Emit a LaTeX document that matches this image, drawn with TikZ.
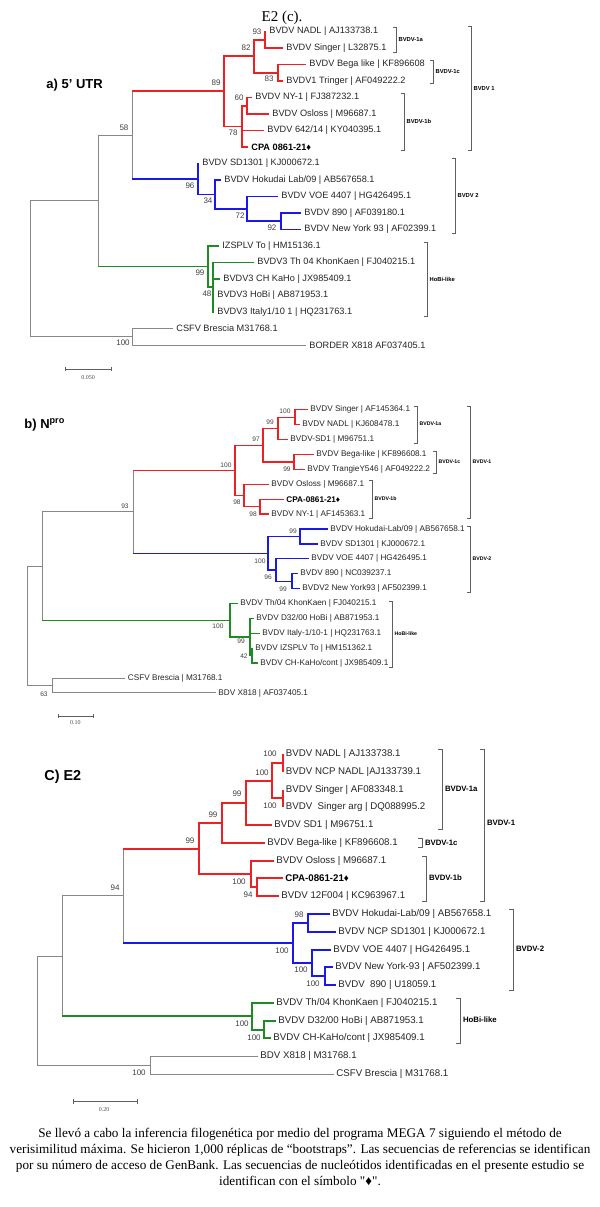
\documentclass[tikz,border=0pt]{standalone}
\usepackage{fontspec}
\setmainfont{Liberation Serif}
\setsansfont{Liberation Sans}
\newfontfamily\capfont{Liberation Serif}
\definecolor{tred}{RGB}{238,32,36}
\definecolor{tblue}{RGB}{25,25,235}
\definecolor{tgreen}{RGB}{30,140,35}
\definecolor{tgray}{RGB}{135,135,135}
\definecolor{bgray}{RGB}{95,95,95}
\tikzset{
  lbA/.style={font=\fontsize{4.6}{5}\selectfont\sffamily, anchor=west, inner xsep=1.5pt, inner ysep=0pt, text=black!85},
  lbB/.style={font=\fontsize{4.1}{5}\selectfont\sffamily, anchor=west, inner xsep=1.25pt, inner ysep=0pt, text=black!85},
  lbC/.style={font=\fontsize{4.85}{5}\selectfont\sffamily, anchor=west, inner xsep=1.25pt, inner ysep=0pt, text=black!85},
  bsA/.style={font=\fontsize{4}{4}\selectfont\sffamily, inner sep=0pt, text=black!75},
  bsB/.style={font=\fontsize{3.3}{4}\selectfont\sffamily, inner sep=0pt, text=black!75},
  bsC/.style={font=\fontsize{4}{4}\selectfont\sffamily, inner sep=0pt, text=black!75},
  brk/.style={draw=bgray, line width=0.4pt},
  brA/.style={font=\fontsize{2.9}{3}\selectfont\sffamily\bfseries, anchor=west, inner sep=0.6pt},
  brB/.style={font=\fontsize{2.6}{3}\selectfont\sffamily\bfseries, anchor=west, inner sep=0.6pt},
  brC/.style={font=\fontsize{3.9}{4}\selectfont\sffamily\bfseries, anchor=west, inner sep=0.8pt},
  rA/.style={draw=tred, line width=0.85pt},
  uA/.style={draw=tblue, line width=0.85pt},
  eA/.style={draw=tgreen, line width=0.85pt},
  rB/.style={draw=tred, line width=0.65pt},
  uB/.style={draw=tblue, line width=0.65pt},
  eB/.style={draw=tgreen, line width=0.65pt},
  rC/.style={draw=tred, line width=1pt},
  uC/.style={draw=tblue, line width=1pt},
  eC/.style={draw=tgreen, line width=1pt},
  gT/.style={draw=tgray, line width=0.45pt},
  sbar/.style={draw=bgray, line width=0.45pt},
  sblab/.style={font=\fontsize{3}{3}\selectfont\rmfamily, inner sep=0pt, text=black!70},
  ptitle/.style={font=\fontsize{6.5}{7}\selectfont\sffamily\bfseries, anchor=west, inner sep=0pt},
}
\begin{document}
\begin{tikzpicture}[x=0.5pt,y=-0.5pt]
\useasboundingbox (0,0) rectangle (600,1207);
\fill[white] (0,0) rectangle (600,1207);

\node[font=\fontsize{7.5}{8}\selectfont\rmfamily, inner sep=0pt] (top) at (282,18) {E2 (c).};

%%%%%%%%%%%%%%%% PANEL A %%%%%%%%%%%%%%%%
\node[ptitle] (titA) at (46,85) {a) 5’ UTR};
\coordinate (aR) at (30,268.8);
\coordinate (aN1) at (98,200.9);
\coordinate (aN58) at (132,135.1);
\coordinate (aO) at (132,336.75);
\coordinate (a89) at (224,91.3);
\coordinate (a82) at (254,56.25);
\coordinate (a93) at (265,39.75);
\coordinate (a83) at (278,72.75);
\coordinate (a78) at (242,126.4);
\coordinate (a60) at (247,105.75);
\coordinate (a96) at (198,179);
\coordinate (a34) at (215,194.4);
\coordinate (a72) at (247,208.9);
\coordinate (a92) at (281,221.25);
\coordinate (a99) at (208,266.6);
\coordinate (a48) at (213,287.25);

\node[lbA] (aT1) at (266,31.5) {BVDV NADL | AJ133738.1};
\node[lbA] (aT2) at (283,48) {BVDV Singer | L32875.1};
\node[lbA] (aT3) at (306,64.5) {BVDV Bega like | KF896608};
\node[lbA] (aT4) at (283,81) {BVDV1 Tringer | AF049222.2};
\node[lbA] (aT5) at (252,97.5) {BVDV NY-1 | FJ387232.1};
\node[lbA] (aT6) at (269,114) {BVDV Osloss | M96687.1};
\node[lbA] (aT7) at (264,130.5) {BVDV 642/14 | KY040395.1};
\node[lbA, font=\fontsize{4.6}{5}\selectfont\sffamily\bfseries, text=black] (aT8) at (248,147) {CPA 0861-21♦};
\node[lbA] (aT9) at (199,163.5) {BVDV SD1301 | KJ000672.1};
\node[lbA] (aT10) at (221,180) {BVDV Hokudai Lab/09 | AB567658.1};
\node[lbA] (aT11) at (278,196.5) {BVDV VOE 4407 | HG426495.1};
\node[lbA] (aT12) at (301,213) {BVDV 890 | AF039180.1};
\node[lbA] (aT13) at (301,229.5) {BVDV New York 93 | AF02399.1};
\node[lbA] (aT14) at (219,246) {IZSPLV To | HM15136.1};
\node[lbA] (aT15) at (254,262.5) {BVDV3 Th 04 KhonKaen | FJ040215.1};
\node[lbA] (aT16) at (220,279) {BVDV3 CH KaHo | JX985409.1};
\node[lbA] (aT17) at (214,295.5) {BVDV3 HoBi | AB871953.1};
\node[lbA] (aT18) at (214,312) {BVDV3 Italy1/10 1 | HQ231763.1};
\node[lbA] (aT19) at (173,328.5) {CSFV Brescia M31768.1};
\node[lbA] (aT20) at (306,345) {BORDER X818 AF037405.1};

\draw[gT] (aR) |- (aN1);
\draw[gT] (aR) |- (aO);
\draw[gT] (aN1) |- (aN58);
\draw[gT] (aO) |- (aT19.west);
\draw[gT] (aO) |- (aT20.west);
\draw[gT] (aN58) -- (aN58 |- a89);
\draw[rA] (aN58 |- a89) -- (a89);
\draw[gT] (aN58) -- (aN58 |- a96);
\draw[uA] (aN58 |- a96) -- (a96);
\draw[gT] (aN1) -- (aN1 |- a99);
\draw[eA] (aN1 |- a99) -- (a99);
\draw[rA] (a89) |- (a82);
\draw[rA] (a89) |- (a78);
\draw[rA] (a82) |- (a93);
\draw[rA] (a82) |- (a83);
\draw[rA] (a93) |- (aT1.west);
\draw[rA] (a93) |- (aT2.west);
\draw[rA] (a83) |- (aT3.west);
\draw[rA] (a83) |- (aT4.west);
\draw[rA] (a78) |- (a60);
\draw[rA] (a60) |- (aT5.west);
\draw[rA] (a60) |- (aT6.west);
\draw[rA] (a78) |- (aT7.west);
\draw[rA] (a78) |- (aT8.west);
\draw[uA] (a96) |- (aT9.west);
\draw[uA] (a96) |- (a34);
\draw[uA] (a34) |- (aT10.west);
\draw[uA] (a34) |- (a72);
\draw[uA] (a72) |- (aT11.west);
\draw[uA] (a72) |- (a92);
\draw[uA] (a92) |- (aT12.west);
\draw[uA] (a92) |- (aT13.west);
\draw[eA] (a99) |- (aT14.west);
\draw[eA] (a99) |- (a48);
\draw[eA] (a48) |- (aT15.west);
\draw[eA] (a48) |- (aT16.west);
\draw[eA] (a48) |- (aT17.west);
\draw[eA] (a48) |- (aT18.west);

\node[bsA] (ab1) at (257,32) {93};
\node[bsA] (ab2) at (246,48) {82};
\node[bsA] (ab3) at (269,79) {83};
\node[bsA] (ab4) at (216,83) {89};
\node[bsA] (ab5) at (239,98) {60};
\node[bsA] (ab6) at (233,133) {78};
\node[bsA] (ab7) at (124,128) {58};
\node[bsA] (ab8) at (190,186) {96};
\node[bsA] (ab9) at (208,201) {34};
\node[bsA] (ab10) at (240,216) {72};
\node[bsA] (ab11) at (272,228) {92};
\node[bsA] (ab12) at (200,273) {99};
\node[bsA] (ab13) at (207,294) {48};
\node[bsA] (ab14) at (123,343) {100};

\draw[brk] (393,27) -- (396,27) -- (396,52) -- (393,52);
\node[brA] (aK1) at (397,39.5) {BVDV-1a};
\draw[brk] (430,60) -- (433,60) -- (433,83) -- (430,83);
\node[brA] (aK2) at (434,71.5) {BVDV-1c};
\draw[brk] (401,93) -- (404,93) -- (404,150) -- (401,150);
\node[brA] (aK3) at (405,121.5) {BVDV-1b};
\draw[brk] (468,26) -- (471,26) -- (471,150) -- (468,150);
\node[brA] (aK4) at (472,88) {BVDV 1};
\draw[brk] (452,158) -- (455,158) -- (455,233) -- (452,233);
\node[brA] (aK5) at (456,195.5) {BVDV 2};
\draw[brk] (424,242) -- (427,242) -- (427,316) -- (424,316);
\node[brA] (aK6) at (428,279) {HoBi-like};

\draw[sbar] (65,369) -- (111,369) (65,367) -- (65,371) (111,367) -- (111,371);
\node[sblab] (aS) at (88,378) {0.050};

%%%%%%%%%%%%%%%% PANEL B %%%%%%%%%%%%%%%%
\node[ptitle] (titB) at (24,425) {b) N\textsuperscript{pro}};
\coordinate (bR) at (27,625.8);
\coordinate (bX) at (42,566);
\coordinate (bN93) at (133,511.8);
\coordinate (bO) at (52,685.5);
\coordinate (b100) at (235,470.3);
\coordinate (b97) at (263,445.2);
\coordinate (b99) at (278,428.4);
\coordinate (b100a) at (295,417.25);
\coordinate (b1c) at (294,462);
\coordinate (b1b) at (244,495.5);
\coordinate (bin) at (260,506.6);
\coordinate (bb100) at (268,553.2);
\coordinate (bb99a) at (300,536.5);
\coordinate (bb96) at (276,570);
\coordinate (bb99b) at (292,581.2);
\coordinate (bg100) at (230,620.3);
\coordinate (bg99) at (250,637);
\coordinate (bg42) at (252,655.7);

\node[lbB] (bT1) at (307.5,409.8) {BVDV Singer | AF145364.1};
\node[lbB] (bT2) at (299.5,424.7) {BVDV NADL | KJ608478.1};
\node[lbB] (bT3) at (287.5,439.6) {BVDV-SD1 | M96751.1};
\node[lbB] (bT4) at (313.5,454.5) {BVDV Bega-like | KF896608.1};
\node[lbB] (bT5) at (304.5,469.4) {BVDV TrangieY546 | AF049222.2};
\node[lbB] (bT6) at (268.5,484.3) {BVDV Osloss | M96687.1};
\node[lbB, font=\fontsize{4.1}{5}\selectfont\sffamily\bfseries, text=black] (bT7) at (283.5,499.2) {CPA-0861-21♦};
\node[lbB] (bT8) at (268.5,514.1) {BVDV NY-1 | AF145363.1};
\node[lbB] (bT9) at (327.5,529) {BVDV Hokudai-Lab/09 | AB567658.1};
\node[lbB] (bT10) at (317.5,543.9) {BVDV SD1301 | KJ000672.1};
\node[lbB] (bT11) at (308.5,558.8) {BVDV VOE 4407 | HG426495.1};
\node[lbB] (bT12) at (297.5,573.7) {BVDV 890 | NC039237.1};
\node[lbB] (bT13) at (299.5,588.6) {BVDV2 New York93 | AF502399.1};
\node[lbB] (bT14) at (237.5,603.5) {BVDV Th/04 KhonKaen | FJ040215.1};
\node[lbB] (bT15) at (253.5,618.4) {BVDV D32/00 HoBi | AB871953.1};
\node[lbB] (bT16) at (259.5,633.3) {BVDV Italy-1/10-1 | HQ231763.1};
\node[lbB] (bT17) at (252.5,648.2) {BVDV IZSPLV To | HM151362.1};
\node[lbB] (bT18) at (257.5,663.1) {BVDV CH-KaHo/cont | JX985409.1};
\node[lbB] (bT19) at (125,678) {CSFV Brescia | M31768.1};
\node[lbB] (bT20) at (215.5,692.9) {BDV X818 | AF037405.1};

\draw[gT] (bR) |- (bX);
\draw[gT] (bR) |- (bO);
\draw[gT] (bO) |- (bT19.west);
\draw[gT] (bO) |- (bT20.west);
\draw[gT] (bX) |- (bN93);
\draw[gT] (bX) -- (bX |- bg100);
\draw[eB] (bX |- bg100) -- (bg100);
\draw[gT] (bN93) -- (bN93 |- b100);
\draw[rB] (bN93 |- b100) -- (b100);
\draw[gT] (bN93) -- (bN93 |- bb100);
\draw[uB] (bN93 |- bb100) -- (bb100);
\draw[rB] (b100) |- (b97);
\draw[rB] (b100) |- (b1b);
\draw[rB] (b97) |- (b99);
\draw[rB] (b97) |- (b1c);
\draw[rB] (b99) |- (b100a);
\draw[rB] (b99) |- (bT3.west);
\draw[rB] (b100a) |- (bT1.west);
\draw[rB] (b100a) |- (bT2.west);
\draw[rB] (b1c) |- (bT4.west);
\draw[rB] (b1c) |- (bT5.west);
\draw[rB] (b1b) |- (bT6.west);
\draw[rB] (b1b) |- (bin);
\draw[rB] (bin) |- (bT7.west);
\draw[rB] (bin) |- (bT8.west);
\draw[uB] (bb100) |- (bb99a);
\draw[uB] (bb100) |- (bb96);
\draw[uB] (bb99a) |- (bT9.west);
\draw[uB] (bb99a) |- (bT10.west);
\draw[uB] (bb96) |- (bT11.west);
\draw[uB] (bb96) |- (bb99b);
\draw[uB] (bb99b) |- (bT12.west);
\draw[uB] (bb99b) |- (bT13.west);
\draw[eB] (bg100) |- (bT14.west);
\draw[eB] (bg100) |- (bg99);
\draw[eB] (bg99) |- (bT15.west);
\draw[eB] (bg99) |- (bT16.west);
\draw[eB] (bg99) |- (bg42);
\draw[eB] (bg42) |- (bT17.west);
\draw[eB] (bg42) |- (bT18.west);

\node[bsB] (bb1) at (285,411) {100};
\node[bsB] (bb2) at (270,422) {99};
\node[bsB] (bb3) at (256,439) {97};
\node[bsB] (bb4) at (287,469) {99};
\node[bsB] (bb5) at (226,465) {100};
\node[bsB] (bb6) at (237,502) {98};
\node[bsB] (bb7) at (253,514) {98};
\node[bsB] (bb8) at (125,506) {93};
\node[bsB] (bb9) at (293,531) {99};
\node[bsB] (bb10) at (260,561) {100};
\node[bsB] (bb11) at (268,577) {96};
\node[bsB] (bb12) at (283,589) {99};
\node[bsB] (bb13) at (218,626) {100};
\node[bsB] (bb14) at (241,641) {99};
\node[bsB] (bb15) at (244,656) {42};
\node[bsB] (bb16) at (44,694) {63};

\draw[brk] (414,406) -- (417,406) -- (417,443) -- (414,443);
\node[brB] (bK1) at (418,424) {BVDV-1a};
\draw[brk] (433,451) -- (436,451) -- (436,473) -- (433,473);
\node[brB] (bK2) at (437,462) {BVDV-1c};
\draw[brk] (467,406) -- (470,406) -- (470,518) -- (467,518);
\node[brB] (bK3) at (471,462) {BVDV-1};
\draw[brk] (369,480) -- (372,480) -- (372,518) -- (369,518);
\node[brB] (bK4) at (373,499) {BVDV-1b};
\draw[brk] (467,526) -- (470,526) -- (470,592) -- (467,592);
\node[brB] (bK5) at (471,559) {BVDV-2};
\draw[brk] (389,601) -- (392,601) -- (392,667) -- (389,667);
\node[brB] (bK6) at (393,634) {HoBi-like};

\draw[sbar] (58,716) -- (93,716) (58,714) -- (58,718) (93,714) -- (93,718);
\node[sblab] (bS) at (75.5,723) {0.10};

%%%%%%%%%%%%%%%% PANEL C %%%%%%%%%%%%%%%%
\node[ptitle, font=\fontsize{7.2}{8}\selectfont\sffamily\bfseries] (titC) at (44,777) {C) E2};
\coordinate (cR) at (37,1010.5);
\coordinate (cX) at (62,956);
\coordinate (c94) at (123,895.7);
\coordinate (cO) at (150,1065.1);
\coordinate (c99c) at (199,848.5);
\coordinate (c99b) at (222,822.9);
\coordinate (c99a) at (246,802.9);
\coordinate (c100) at (272,780.7);
\coordinate (c100a) at (283,762.9);
\coordinate (c100b) at (283,798.4);
\coordinate (c1b) at (251,874);
\coordinate (cin) at (257,887.3);
\coordinate (cb100) at (293,942.9);
\coordinate (c98) at (308,922.9);
\coordinate (c100v) at (312,962.9);
\coordinate (cin100) at (325,976.2);
\coordinate (cg) at (252,1016.2);
\coordinate (cgin) at (264,1029.6);

\node[lbC] (cT1) at (283,754) {BVDV NADL | AJ133738.1};
\node[lbC] (cT2) at (283,771.8) {BVDV NCP NADL |AJ133739.1};
\node[lbC] (cT3) at (283,789.6) {BVDV Singer | AF083348.1};
\node[lbC] (cT4) at (283,807.3) {BVDV\ \ Singer arg | DQ088995.2};
\node[lbC] (cT5) at (271.5,825.1) {BVDV SD1 | M96751.1};
\node[lbC] (cT6) at (264.5,842.9) {BVDV Bega-like | KF896608.1};
\node[lbC] (cT7) at (273.5,860.7) {BVDV Osloss | M96687.1};
\node[lbC, font=\fontsize{4.85}{5}\selectfont\sffamily\bfseries, text=black] (cT8) at (282.5,878.4) {CPA-0861-21♦};
\node[lbC] (cT9) at (278.5,896.2) {BVDV 12F004 | KC963967.1};
\node[lbC] (cT10) at (329.5,914) {BVDV Hokudai-Lab/09 | AB567658.1};
\node[lbC] (cT11) at (335.5,931.8) {BVDV NCP SD1301 | KJ000672.1};
\node[lbC] (cT12) at (330.5,949.6) {BVDV VOE 4407 | HG426495.1};
\node[lbC] (cT13) at (332.5,967.3) {BVDV New York-93 | AF502399.1};
\node[lbC] (cT14) at (335.5,985.1) {BVDV\ \ 890 | U18059.1};
\node[lbC] (cT15) at (273.5,1002.9) {BVDV Th/04 KhonKaen | FJ040215.1};
\node[lbC] (cT16) at (275.5,1020.7) {BVDV D32/00 HoBi | AB871953.1};
\node[lbC] (cT17) at (270.5,1038.4) {BVDV CH-KaHo/cont | JX985409.1};
\node[lbC] (cT18) at (257.5,1056.2) {BDV X818 | M31768.1};
\node[lbC] (cT19) at (333.5,1074) {CSFV Brescia | M31768.1};

\draw[gT] (cR) |- (cX);
\draw[gT] (cR) |- (cO);
\draw[gT] (cO) |- (cT18.west);
\draw[gT] (cO) |- (cT19.west);
\draw[gT] (cX) |- (c94);
\draw[gT] (cX) -- (cX |- cg);
\draw[eC] (cX |- cg) -- (cg);
\draw[gT] (c94) -- (c94 |- c99c);
\draw[rC] (c94 |- c99c) -- (c99c);
\draw[gT] (c94) -- (c94 |- cb100);
\draw[uC] (c94 |- cb100) -- (cb100);
\draw[rC] (c99c) |- (c99b);
\draw[rC] (c99c) |- (c1b);
\draw[rC] (c99b) |- (c99a);
\draw[rC] (c99b) |- (cT6.west);
\draw[rC] (c99a) |- (c100);
\draw[rC] (c99a) |- (cT5.west);
\draw[rC] (c100) |- (c100a);
\draw[rC] (c100) |- (c100b);
\draw[rC] (c100a) |- (cT1.west);
\draw[rC] (c100a) |- (cT2.west);
\draw[rC] (c100b) |- (cT3.west);
\draw[rC] (c100b) |- (cT4.west);
\draw[rC] (c1b) |- (cT7.west);
\draw[rC] (c1b) |- (cin);
\draw[rC] (cin) |- (cT8.west);
\draw[rC] (cin) |- (cT9.west);
\draw[uC] (cb100) |- (c98);
\draw[uC] (cb100) |- (c100v);
\draw[uC] (c98) |- (cT10.west);
\draw[uC] (c98) |- (cT11.west);
\draw[uC] (c100v) |- (cT12.west);
\draw[uC] (c100v) |- (cin100);
\draw[uC] (cin100) |- (cT13.west);
\draw[uC] (cin100) |- (cT14.west);
\draw[eC] (cg) |- (cT15.west);
\draw[eC] (cg) |- (cgin);
\draw[eC] (cgin) |- (cT16.west);
\draw[eC] (cgin) |- (cT17.west);

\node[bsC] (cb1) at (270,754) {100};
\node[bsC] (cb2) at (262,773) {100};
\node[bsC] (cb3) at (270,806) {100};
\node[bsC] (cb4) at (237,794) {99};
\node[bsC] (cb5) at (213,815) {99};
\node[bsC] (cb6) at (190,841) {99};
\node[bsC] (cb7) at (239,882) {100};
\node[bsC] (cb8) at (248,895) {94};
\node[bsC] (cb9) at (115,888) {94};
\node[bsC] (cb10) at (299,915) {98};
\node[bsC] (cb11) at (282,951) {100};
\node[bsC] (cb12) at (301,970) {100};
\node[bsC] (cb13) at (313,984) {100};
\node[bsC] (cb14) at (242,1024) {100};
\node[bsC] (cb15) at (254,1038) {100};
\node[bsC] (cb16) at (139,1073) {100};

\draw[brk] (438,749) -- (442,749) -- (442,829) -- (438,829);
\node[brC] (cK1) at (443,789) {BVDV-1a};
\draw[brk] (418,838) -- (422,838) -- (422,847) -- (418,847);
\node[brC] (cK2) at (423,843) {BVDV-1c};
\draw[brk] (480,749) -- (484,749) -- (484,901) -- (480,901);
\node[brC] (cK3) at (485,823) {BVDV-1};
\draw[brk] (422,856) -- (426,856) -- (426,901) -- (422,901);
\node[brC] (cK4) at (427,878) {BVDV-1b};
\draw[brk] (509,909) -- (513,909) -- (513,990) -- (509,990);
\node[brC] (cK5) at (514,949) {BVDV-2};
\draw[brk] (456,998) -- (460,998) -- (460,1043) -- (456,1043);
\node[brC] (cK6) at (461,1020) {HoBi-like};

\draw[sbar] (73,1101) -- (137,1101) (73,1098.5) -- (73,1103.5) (137,1098.5) -- (137,1103.5);
\node[sblab] (cS) at (104,1110) {0.20};

%%%%%%%%%%%%%%%% CAPTION %%%%%%%%%%%%%%%%
\node[font=\fontsize{6.6}{8}\selectfont\capfont, align=center, inner sep=0pt] (cap) at (300,1157)
{Se llevó a cabo la inferencia filogenética por medio del programa MEGA 7 siguiendo el método de\\
verisimilitud máxima. Se hicieron 1,000 réplicas de “bootstraps”. Las secuencias de referencias se identifican\\
por su número de acceso de GenBank. Las secuencias de nucleótidos identificadas en el presente estudio se\\
identifican con el símbolo "♦".};
\end{tikzpicture}
\end{document}
